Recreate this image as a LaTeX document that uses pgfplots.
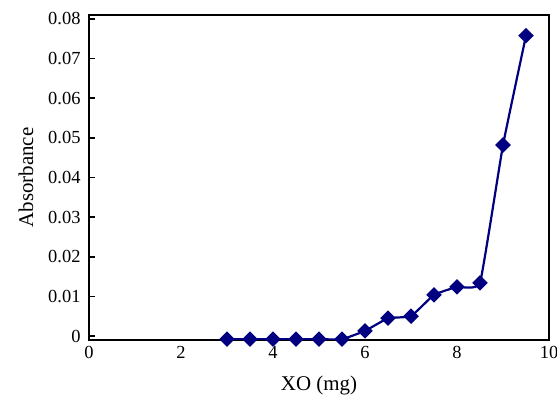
\documentclass[border=0pt]{standalone}
\usepackage{pgfplots}
\pgfplotsset{compat=1.18}
\usepackage{fontspec}
\setmainfont{Liberation Serif}
\definecolor{navyblue}{RGB}{0,0,128}
\pgfplotstableread{
x y
3 -0.0008
3.5 -0.0008
4 -0.0008
4.5 -0.0008
5 -0.0008
5.5 -0.0008
6 0.0013
6.5 0.0045
7 0.0050
7.5 0.0104
8 0.0124
8.5 0.0134
9 0.0482
9.5 0.0758
}\datatable
\begin{document}
\begin{tikzpicture}
\useasboundingbox (0,0) rectangle (557bp,397bp);
\begin{axis}[
  at={(89bp,57bp)}, anchor=south west,
  scale only axis, width=460bp, height=325bp,
  xmin=0, xmax=10, ymin=-0.001, ymax=0.081,
  xtick={0,2,...,10}, ytick={0,0.01,...,0.08},
  scaled y ticks=false,
  yticklabel style={/pgf/number format/fixed, /pgf/number format/precision=2},
  /pgf/number format/assume math mode=true,
  tick label style={font=\fontsize{18.5}{20}\selectfont},
  label style={font=\fontsize{21}{23}\selectfont},
  xlabel={XO (mg)}, ylabel={Absorbance},
  xlabel style={yshift=-10bp},
  ylabel style={yshift=8bp},
  axis line style={line width=1.6bp},
  tick style={line width=1.6bp, black},
  x tick style={draw=none},
  major tick length=6bp,
  tick align=inside,
  ytick pos=left, xtick pos=bottom,
  xticklabel style={yshift=-3bp},
  yticklabel style={xshift=-5bp},
]
\addplot[navyblue, line width=2.2bp, smooth, tension=0.2,
  mark=square*, mark size=4.4bp, mark options={rotate=45, solid}]
  table[x=x, y=y] {\datatable};
\end{axis}
\end{tikzpicture}
\end{document}
